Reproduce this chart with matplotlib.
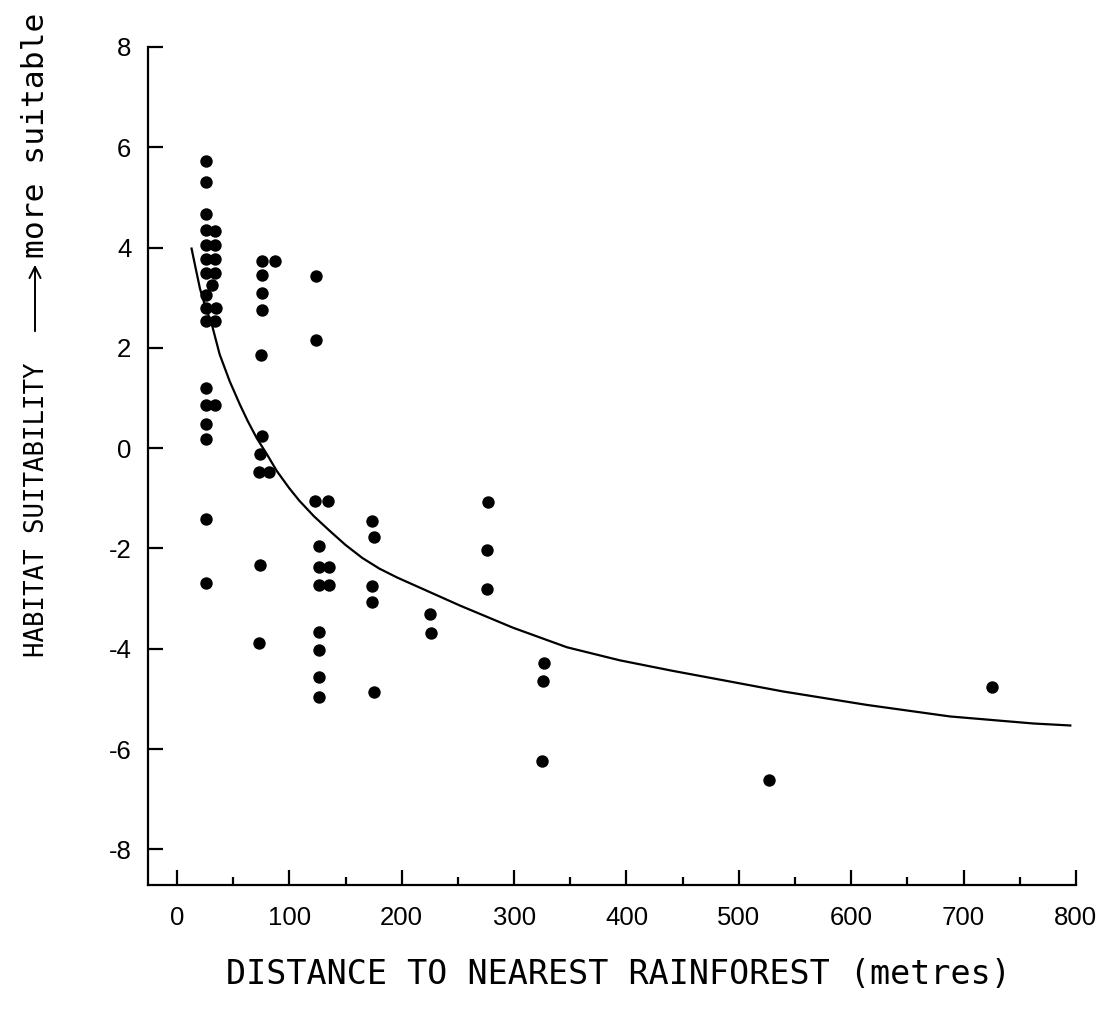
import matplotlib
matplotlib.use("Agg")
import matplotlib.pyplot as plt
from matplotlib.patches import FancyArrowPatch

# site distances (m) and habitat suitability scores
dist = [26, 26, 26, 26, 34, 26, 34, 26, 34, 26, 34, 31, 26, 26, 35, 26, 34,
        26, 26, 34, 26, 26, 26, 26,
        76, 87, 76, 76, 76, 75, 76, 74, 73, 82, 74, 73,
        124, 124, 123, 134, 126, 126, 135, 126, 135, 126, 126, 126, 126,
        174, 175, 174, 174, 175,
        225, 226,
        277, 276, 276,
        327, 326, 325,
        527, 725]
score = [5.72, 5.31, 4.67, 4.35, 4.33, 4.06, 4.05, 3.78, 3.78, 3.50, 3.50, 3.26, 3.06,
         2.80, 2.80, 2.54, 2.54,
         1.19, 0.87, 0.87, 0.49, 0.18, -1.41, -2.68,
         3.73, 3.73, 3.45, 3.09, 2.76, 1.86, 0.25, -0.12, -0.47, -0.47, -2.33, -3.88,
         3.44, 2.16, -1.05, -1.05, -1.95, -2.37, -2.37, -2.72, -2.72, -3.66, -4.02, -4.57, -4.97,
         -1.45, -1.77, -2.74, -3.06, -4.87,
         -3.30, -3.68,
         -1.07, -2.03, -2.80,
         -4.29, -4.65, -6.24,
         -6.62, -4.77]

# fitted trend line
fit_x = [13, 17, 20.5, 25, 31, 38, 47, 56, 63, 71, 80, 89, 100, 109, 122, 136, 150,
         165, 180, 196, 228, 252, 299, 347, 394, 441, 489, 539, 614, 688, 762, 795]
fit_y = [3.98, 3.55, 3.18, 2.84, 2.47, 1.87, 1.33, 0.87, 0.54, 0.20, -0.12, -0.46,
         -0.80, -1.05, -1.36, -1.65, -1.93, -2.19, -2.40, -2.58, -2.90, -3.14, -3.58,
         -3.97, -4.23, -4.44, -4.64, -4.85, -5.12, -5.35, -5.49, -5.53]

x_ticks = [0, 100, 200, 300, 400, 500, 600, 700, 800]
x_minor = [50, 150, 250, 350, 450, 550, 650, 750]
y_ticks = [8, 6, 4, 2, 0, -2, -4, -6, -8]

mono = "DejaVu Sans Mono"

fig = plt.figure(figsize=(11.1, 10.1), dpi=100)
ax = fig.add_axes([0.1333, 0.1238, 0.836, 0.8297])

ax.plot(fit_x, fit_y, color="black", lw=1.6, solid_joinstyle="round")
ax.scatter(dist, score, s=80, color="black", zorder=3, linewidths=0)

ax.set_xlim(-25.8, 800)
ax.set_ylim(-8.71, 8)
ax.spines["top"].set_visible(False)
ax.spines["right"].set_visible(False)
ax.spines["left"].set_linewidth(1.6)
ax.spines["bottom"].set_linewidth(1.6)

ax.set_xticks(x_ticks)
ax.set_xticks(x_minor, minor=True)
ax.set_yticks(y_ticks)
ax.set_yticklabels([str(v) for v in y_ticks])
ax.tick_params(axis="x", which="major", direction="in", length=11, width=1.6, pad=15,
               labelsize=18.5)
ax.tick_params(axis="x", which="minor", direction="in", length=6, width=1.6)
ax.tick_params(axis="y", direction="in", length=11, width=1.6, pad=12, labelsize=18.5)
for lab in ax.get_xticklabels() + ax.get_yticklabels():
    lab.set_fontfamily("Liberation Sans")

fig.text(618 / 1110, 1 - 974 / 1010, "DISTANCE TO NEAREST RAINFOREST (metres)",
         family=mono, fontsize=24, ha="center", va="center")
fig.text(37 / 1110, 1 - 510 / 1010, "HABITAT SUITABILITY", family=mono, fontsize=18.5,
         rotation=90, ha="center", va="center")
fig.text(36 / 1110, 1 - 258 / 1010, "more suitable", family=mono, fontsize=22.5,
         rotation=90, ha="center", va="bottom")
fig.patches.append(FancyArrowPatch(
    (35 / 1110, 1 - 334 / 1010), (35 / 1110, 1 - 262 / 1010),
    transform=fig.transFigure, arrowstyle="->", mutation_scale=20, lw=1.4, color="black"))

fig.savefig("out.png", dpi=100, facecolor="white")
